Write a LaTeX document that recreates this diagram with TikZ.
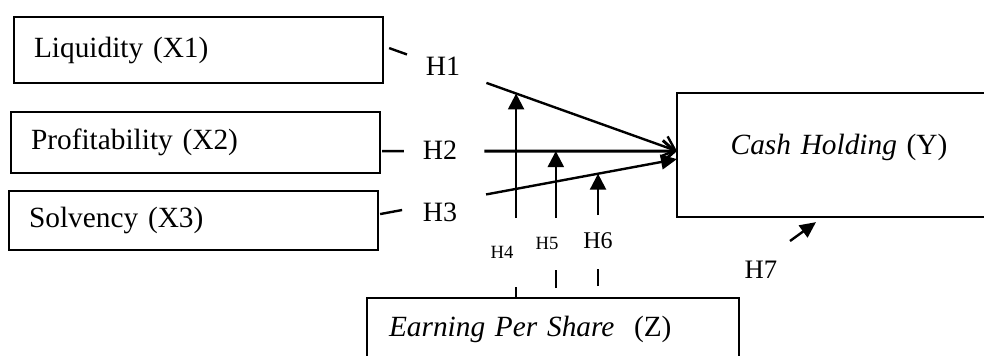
\documentclass[tikz,border=0pt]{standalone}
\usepackage{fontspec}
\setmainfont{Liberation Serif}
\usetikzlibrary{arrows.meta,calc}

\begin{document}
\begin{tikzpicture}[x=0.75pt, y=-0.75pt, >=Triangle]
  \tikzset{
    var/.style={draw, line width=1.6pt, anchor=north west, inner xsep=15pt, text width=246.75pt, align=left, font=\fontsize{22}{26}\selectfont},
    hyp/.style={inner sep=0pt, font=\fontsize{21}{25}\selectfont},
    link/.style={line width=1.8pt},
    mod/.style={line width=1.8pt, -{Triangle[length=12pt, width=12pt]}}
  }
  \useasboundingbox (0,0) rectangle (984,355);
  \clip (0,0) rectangle (984,355);

  % Variables
  \node[var, minimum height=49.5pt] (liq) at (13,16) {Liquidity (X1)};
  \node[var, minimum height=45.75pt] (prof) at (10,111) {Profitability (X2)};
  \node[var, minimum height=44.25pt] (solv) at (8,190) {Solvency (X3)};
  \node[var, align=center, inner xsep=0pt, text width=243pt, minimum height=93pt, text height=15pt, text depth=16.5pt] (cash) at (676,92) {\textit{Cash Holding} (Y)};
  \node[var, inner xsep=16.5pt, text width=246pt, minimum height=46.5pt] (eps) at (366,297) {\textit{Earning Per Share}\ \ (Z)};

  % Hypothesis labels
  \node[hyp] (h1) at (443,66) {H1};
  \node[hyp] (h2) at (440,150) {H2};
  \node[hyp] (h3) at (440,212) {H3};
  \node[hyp, font=\fontsize{14}{16}\selectfont] (h4) at (502,252) {H4};
  \node[hyp, font=\fontsize{14}{16}\selectfont] (h5) at (547,243) {H5};
  \node[hyp, font=\fontsize{18}{21}\selectfont] (h6) at (598,241) {H6};
  \node[hyp, font=\fontsize{20}{24}\selectfont] (h7) at (761,270) {H7};

  % Line ends
  \coordinate (s1) at ($(liq.east)+(5,-2)$);
  \coordinate (e1) at ($(cash.west)+(1,-4)$);
  \coordinate (s2) at ($(prof.east)+(1,8.5)$);
  \coordinate (e2) at ($(cash.west)+(1,-4)$);
  \coordinate (s3) at ($(solv.east)+(1,-6.5)$);
  \coordinate (e3) at ($(cash.west)+(1,4)$);

  % Direct effects
  \draw[link] (s1) -- ($(s1)!0.062!(e1)$);
  \draw[link, -{Straight Barb[length=9pt, width=16pt]}] ($(s1)!0.338!(e1)$) -- (e1);
  \draw[link] (s2) -- ($(s2)!0.074!(e2)$);
  \draw[link, line width=2.2pt, -{Straight Barb[length=9pt, width=16pt]}] ($(s2)!0.347!(e2)$) -- (e2);
  \draw[link] (s3) -- ($(s3)!0.074!(e3)$);
  \draw[link, -{Triangle[length=12pt, width=11pt]}] ($(s3)!0.357!(e3)$) -- (e3);

  % Moderation
  \coordinate (m4) at ($(s1)!0.441!(e1)$);
  \coordinate (m5) at ($(s2)!0.589!(e2)$);
  \coordinate (m6) at ($(s3)!0.734!(e3)$);
  \coordinate (b4) at (m4 |- eps.north);
  \coordinate (b5) at (m5 |- eps.north);
  \coordinate (b6) at (m6 |- eps.north);

  \draw[link] (b4) -- ($(b4)+(0,-10)$);
  \draw[mod] ($(b4)+(0,-79)$) -- (m4);
  \draw[link] ($(b5)+(0,-9)$) -- ($(b5)+(0,-27)$);
  \draw[mod] ($(b5)+(0,-79)$) -- (m5);
  \draw[link] ($(b6)+(0,-11)$) -- ($(b6)+(0,-28)$);
  \draw[mod] ($(b6)+(0,-82)$) -- (m6);

  \draw[mod, -{Triangle[length=12pt, width=11pt]}] ($(h7)+(29,-29)$) -- ($(cash.south west)+(140,4)$);
\end{tikzpicture}
\end{document}
